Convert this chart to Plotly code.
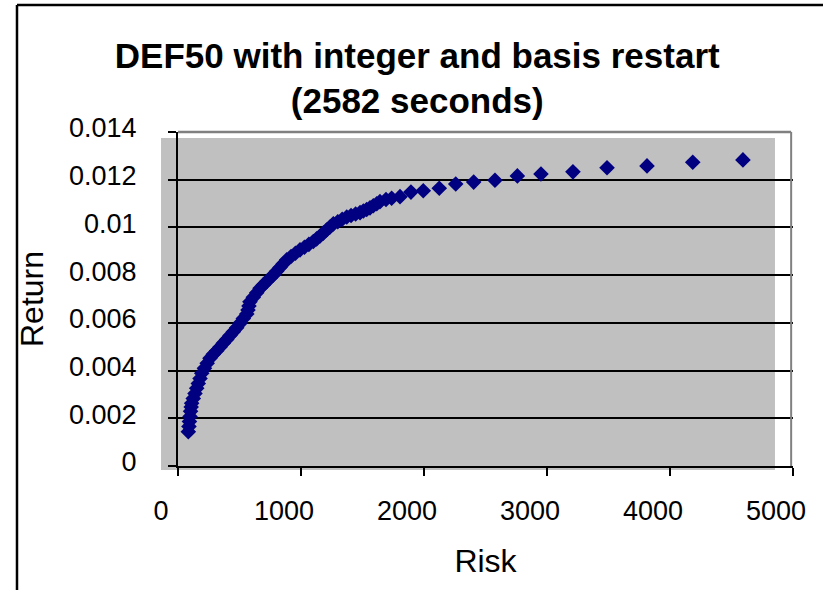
import plotly.graph_objects as go

# Risk / Return values (efficient frontier points)
risk = [84, 89, 93, 98, 102, 107, 111, 124, 138, 152, 165, 179, 193, 215, 237, 260,
        287, 315, 342, 368, 396, 423, 450, 477, 504, 531, 559, 569, 577, 585,
        612, 640, 667, 694, 721, 748, 775, 802, 829, 856, 884, 919, 955, 992,
        1028, 1064, 1100, 1127, 1155, 1181, 1208, 1236, 1263, 1299, 1335, 1372,
        1407, 1444, 1480, 1507, 1534, 1561, 1588, 1616, 1642, 1691, 1737, 1805,
        1894, 1994, 2124, 2258, 2404, 2577, 2759, 2951, 3211, 3488, 3813, 4185, 4593]
ret = [0.00144, 0.00166, 0.00187, 0.00207, 0.00229, 0.00247, 0.00263, 0.00283,
       0.00304, 0.00326, 0.00346, 0.00367, 0.00389, 0.00410, 0.00431, 0.00452,
       0.00468, 0.00483, 0.00499, 0.00515, 0.00530, 0.00547, 0.00563, 0.00579,
       0.00598, 0.00618, 0.00637, 0.00654, 0.00671, 0.00688,
       0.00707, 0.00726, 0.00745, 0.00759, 0.00773, 0.00787, 0.00801, 0.00816,
       0.00832, 0.00848, 0.00864, 0.00878, 0.00892, 0.00906,
       0.00917, 0.00929, 0.00941, 0.00952, 0.00964, 0.00976, 0.00989, 0.01002,
       0.01015, 0.01024, 0.01034, 0.01044, 0.01050, 0.01056, 0.01062, 0.01069,
       0.01075, 0.01082, 0.01091, 0.01099, 0.01108, 0.01117, 0.01122, 0.01129,
       0.01148, 0.01154, 0.01164, 0.01182, 0.01190, 0.01198, 0.01216, 0.01224,
       0.01233, 0.01250, 0.01258, 0.01273, 0.01283]

x_ticks = [0, 1000, 2000, 3000, 4000, 5000]
y_ticks = [0, 0.002, 0.004, 0.006, 0.008, 0.01, 0.012, 0.014]
y_tick_text = ["0", "0.002", "0.004", "0.006", "0.008", "0.01", "0.012", "0.014"]

title_text = "<b>DEF50 with integer and basis restart<br>(2582 seconds)</b>"

FONT = "Liberation Sans, Arial, sans-serif"

fig = go.Figure()
fig.add_trace(go.Scatter(
    x=risk, y=ret, mode="markers",
    marker=dict(symbol="diamond", size=12, color="#000080", line=dict(width=0)),
    showlegend=False, cliponaxis=False,
))

fig.update_layout(
    width=823, height=590,
    margin=dict(l=178, r=30, t=132, b=124),
    paper_bgcolor="white", plot_bgcolor="white",
    font=dict(family=FONT, color="black"),
    title=dict(text=title_text, x=0.507, xanchor="center", y=0.885, yanchor="top",
               font=dict(size=35, family=FONT, color="black")),
    xaxis=dict(range=[0, 5000], tickvals=x_ticks, ticks="outside", ticklen=8,
               tickwidth=2, tickcolor="black", showline=True, linecolor="black",
               linewidth=2, showgrid=False, zeroline=False,
               tickfont=dict(size=27), ticklabelshift=-17, ticklabelstandoff=12,
               title=dict(text="Risk", font=dict(size=32), standoff=24)),
    yaxis=dict(range=[0, 0.014], tickvals=y_ticks, ticktext=y_tick_text,
               ticks="outside", ticklen=8, tickwidth=2, tickcolor="black",
               showline=True, linecolor="black", linewidth=2,
               showgrid=True, gridcolor="black", gridwidth=1.6, zeroline=False,
               tickfont=dict(size=27), ticklabelshift=-4, ticklabelstandoff=26,
               title=dict(text="Return", font=dict(size=32), standoff=16)),
    shapes=[
        # grey plotting area fill (offset as in the reference)
        dict(type="rect", xref="paper", yref="paper", x0=-0.0276, x1=0.9707,
             y0=-0.012, y1=0.982, fillcolor="#C0C0C0", line=dict(width=0), layer="below"),
        # plot-area border (top and right)
        dict(type="line", xref="paper", yref="paper", x0=0, x1=0.997, y0=1.0, y1=1.0,
             line=dict(color="#808080", width=2.5), layer="above"),
        dict(type="line", xref="paper", yref="paper", x0=0.997, x1=0.997, y0=0, y1=1.0,
             line=dict(color="#808080", width=2), layer="above"),
        # outer chart border
        dict(type="line", xref="paper", yref="paper", x0=-0.2618, x1=-0.2618,
             y0=-0.5, y1=1.3802, line=dict(color="black", width=2.5), layer="above"),
        dict(type="line", xref="paper", yref="paper", x0=-0.2618, x1=1.2,
             y0=1.3802, y1=1.3802, line=dict(color="black", width=2.5), layer="above"),
    ],
)

fig.write_html("out.html")
